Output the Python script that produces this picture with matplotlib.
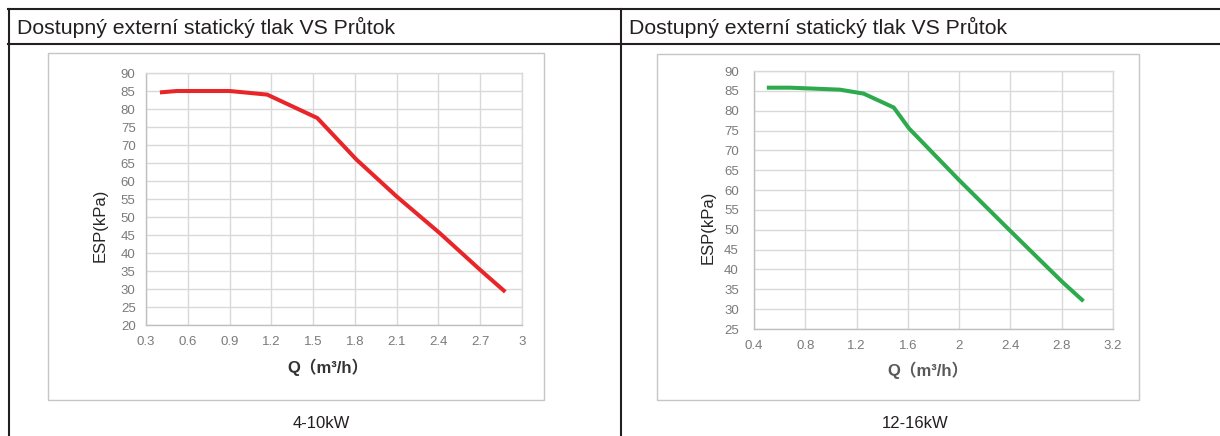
import matplotlib
matplotlib.use("Agg")
import matplotlib.pyplot as plt
from matplotlib.lines import Line2D
from matplotlib.patches import Rectangle

W, H = 1220, 436

header_title = "Dostupný externí statický tlak VS Průtok"
panel_labels = ["4-10kW", "12-16kW"]
y_label = "ESP(kPa)"
x_label = "Q（m³/h）"

# Chart 1 (4-10kW)
q1 = [0.40, 0.52, 0.90, 1.17, 1.53, 1.81, 2.10, 2.41, 2.70, 2.88]
esp1 = [84.6, 85.0, 85.0, 84.0, 77.5, 66.0, 55.7, 45.5, 35.3, 29.2]
xticks1 = [0.3, 0.6, 0.9, 1.2, 1.5, 1.8, 2.1, 2.4, 2.7, 3.0]
xticklabels1 = ["0.3", "0.6", "0.9", "1.2", "1.5", "1.8", "2.1", "2.4", "2.7", "3"]
yticks1 = list(range(20, 95, 5))

# Chart 2 (12-16kW)
q2 = [0.50, 0.68, 1.07, 1.255, 1.49, 1.61, 2.00, 2.39, 2.80, 2.97]
esp2 = [85.8, 85.8, 85.3, 84.3, 80.8, 75.5, 62.5, 50.0, 37.0, 32.0]
xticks2 = [0.4, 0.8, 1.2, 1.6, 2.0, 2.4, 2.8, 3.2]
xticklabels2 = ["0.4", "0.8", "1.2", "1.6", "2", "2.4", "2.8", "3.2"]
yticks2 = list(range(25, 95, 5))

plt.rcParams['font.family'] = ['Liberation Sans', 'Noto Sans CJK SC', 'DejaVu Sans']

fig = plt.figure(figsize=(W / 100, H / 100), dpi=100)
fig.patch.set_facecolor("white")


def fx(px):
    return px / W


def fy(py):
    return 1 - py / H


def hline(x0, x1, y, color="#231f20", lw=1.5):
    fig.add_artist(Line2D([fx(x0), fx(x1)], [fy(y), fy(y)], color=color, lw=lw,
                          transform=fig.transFigure))


def vline(x, y0, y1, color="#231f20", lw=1.5):
    fig.add_artist(Line2D([fx(x), fx(x)], [fy(y0), fy(y1)], color=color, lw=lw,
                          transform=fig.transFigure))


# table lines
hline(8, W, 9)
hline(8, W, 44)
vline(8.5, 9, H)
vline(620.5, 9, H)

fig.text(fx(17), fy(27), header_title, fontsize=15.3, color="#231f20", va="center", ha="left")
fig.text(fx(629), fy(27), header_title, fontsize=15.3, color="#231f20", va="center", ha="left")

fig.text(fx(321), fy(423), panel_labels[0], fontsize=12, color="#231f20", va="center", ha="center")
fig.text(fx(915), fy(423), panel_labels[1], fontsize=12, color="#231f20", va="center", ha="center")

# chart frames
for (x0, y0, x1, y1) in [(48, 53, 544, 400), (657, 54, 1139, 400)]:
    fig.add_artist(Rectangle((fx(x0), fy(y1)), fx(x1 - x0), (y1 - y0) / H,
                             transform=fig.transFigure, fill=False,
                             edgecolor="#c6c6c6", lw=1.0))


def make_chart(rect, q, esp, xticks, xticklabels, yticks, color, ylab_xy, xlab_xy,
               ypad, xpad, xlab_color):
    x0, y0, x1, y1 = rect
    ax = fig.add_axes([fx(x0), fy(y1), fx(x1 - x0), (y1 - y0) / H])
    ax.plot(q, esp, color=color, lw=2.9, solid_capstyle="butt", solid_joinstyle="round")
    ax.set_xlim(xticks[0], xticks[-1])
    ax.set_ylim(yticks[0], yticks[-1])
    ax.set_xticks(xticks)
    ax.set_xticklabels(xticklabels)
    ax.set_yticks(yticks)
    ax.grid(True, color="#d9d9d9", lw=1.0)
    ax.set_axisbelow(True)
    for s in ax.spines.values():
        s.set_color("#d9d9d9")
        s.set_linewidth(1.0)
    ax.spines["left"].set_color("#bfbfbf")
    ax.spines["bottom"].set_color("#bfbfbf")
    ax.tick_params(length=0, labelsize=9.5, labelcolor="#7a7a7a")
    ax.tick_params(axis="y", pad=ypad)
    ax.tick_params(axis="x", pad=xpad)
    fig.text(fx(ylab_xy[0]), fy(ylab_xy[1]), y_label, rotation=90, fontsize=12,
             color="#262626", va="center", ha="center")
    fig.text(fx(xlab_xy[0]), fy(xlab_xy[1]), x_label, fontsize=12, fontweight="bold",
             color=xlab_color, va="center", ha="center")
    return ax


make_chart((146, 73, 522, 325), q1, esp1, xticks1, xticklabels1, yticks1, "#e8262a",
           (100, 225), (328, 367), 7.5, 8, "#333333")
make_chart((754, 71, 1113, 329), q2, esp2, xticks2, xticklabels2, yticks2, "#2eaa4e",
           (708, 227), (928, 370), 11, 8, "#595959")

fig.savefig("out.png", dpi=100, facecolor="white")
